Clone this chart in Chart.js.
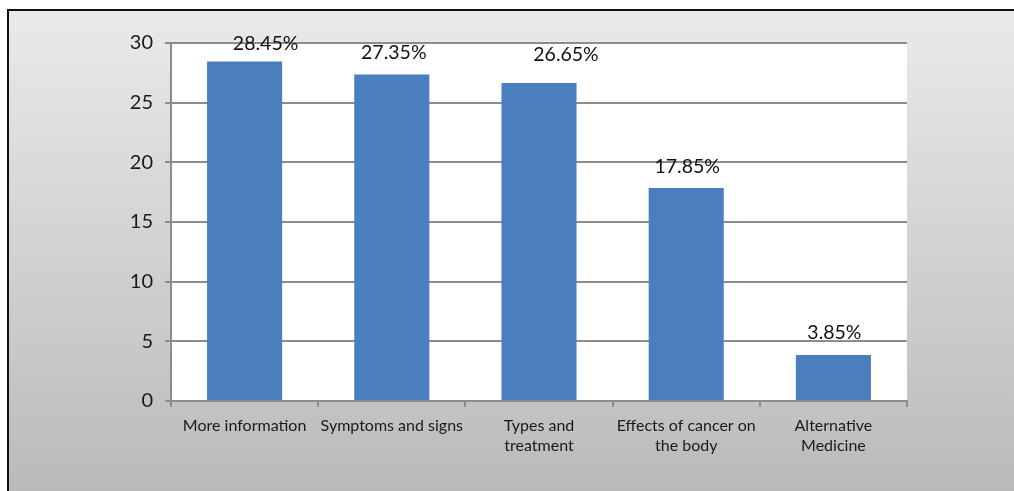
<!DOCTYPE html>
<html>
<head>
<meta charset="utf-8">
<script src="https://cdn.jsdelivr.net/npm/chart.js@4/dist/chart.umd.min.js"></script>
<style>
  html, body { margin: 0; padding: 0; background: #ffffff; }
  #wrap { position: relative; width: 1014px; height: 491px; }
</style>
</head>
<body>
<div id="wrap"><canvas id="c" width="1014" height="491"></canvas></div>
<script>
// Topics people looked for (share of responses, %)
const categories = [
  ["More information"],
  ["Symptoms and signs"],
  ["Types and", "treatment"],
  ["Effects of cancer on", "the body"],
  ["Alternative", "Medicine"]
];
const shares = [28.45, 27.35, 26.65, 17.85, 3.85];
const valueLabels = ["28.45%", "27.35%", "26.65%", "17.85%", "3.85%"];
const yTicks = [0, 5, 10, 15, 20, 25, 30];

// nudges for the value labels (pixels from the bar's top centre)
const labelNudge = [[21, -18], [2, -22], [27, -28], [1, -21], [1, -22]];

const FONT = "Lato, 'Open Sans', sans-serif";

const framePlugin = {
  id: 'frame',
  beforeDraw(chart) {
    const ctx = chart.ctx;
    const a = chart.chartArea;
    ctx.save();
    ctx.fillStyle = '#ffffff';
    ctx.fillRect(0, 0, chart.width, chart.height);
    const g = ctx.createLinearGradient(0, 10, 0, chart.height);
    g.addColorStop(0, '#eaeaea');
    g.addColorStop(1, '#bababa');
    ctx.fillStyle = g;
    ctx.fillRect(8, 10, chart.width - 8, chart.height - 10);
    ctx.strokeStyle = '#111111';
    ctx.lineWidth = 2;
    ctx.beginPath();
    ctx.moveTo(8, chart.height);
    ctx.lineTo(8, 10);
    ctx.lineTo(chart.width, 10);
    ctx.stroke();
    ctx.fillStyle = '#ffffff';
    ctx.fillRect(a.left, a.top, a.right - a.left, a.bottom - a.top);
    ctx.restore();
  }
};

const valueLabelPlugin = {
  id: 'valueLabels',
  afterDatasetsDraw(chart) {
    const ctx = chart.ctx;
    const meta = chart.getDatasetMeta(0);
    ctx.save();
    ctx.font = "19.5px " + FONT;
    ctx.fillStyle = '#111111';
    ctx.textAlign = 'center';
    ctx.textBaseline = 'middle';
    meta.data.forEach((bar, i) => {
      const n = labelNudge[i];
      ctx.fillText(valueLabels[i], bar.x + n[0], bar.y + n[1]);
    });
    ctx.restore();
  }
};

new Chart(document.getElementById('c'), {
  type: 'bar',
  data: {
    labels: categories,
    datasets: [{
      data: shares,
      backgroundColor: '#4a7ebf',
      borderWidth: 0,
      categoryPercentage: 1.0,
      barPercentage: 0.51
    }]
  },
  options: {
    responsive: false,
    animation: false,
    devicePixelRatio: 1,
    layout: { padding: { left: 0, top: 43, right: 107, bottom: 0 } },
    plugins: { legend: { display: false }, tooltip: { enabled: false } },
    scales: {
      x: {
        offset: true,
        grid: {
          offset: true,
          drawOnChartArea: false,
          drawTicks: true,
          tickLength: 6,
          color: '#8c8c8c',
          lineWidth: 2
        },
        border: { display: true, color: '#8c8c8c', width: 2 },
        ticks: {
          color: '#1a1a1a',
          font: { family: FONT, size: 16, lineHeight: 1.3 },
          padding: 8,
          maxRotation: 0,
          autoSkip: false
        },
        afterFit(scale) { scale.height = 90; }
      },
      y: {
        min: 0,
        max: 30,
        afterBuildTicks(scale) { scale.ticks = yTicks.map(v => ({ value: v })); },
        grid: {
          color: '#8c8c8c',
          lineWidth: 2,
          tickLength: 6,
          drawTicks: true
        },
        border: { display: true, color: '#8c8c8c', width: 2 },
        ticks: {
          color: '#1a1a1a',
          font: { family: FONT, size: 20 },
          padding: 12
        },
        afterFit(scale) { scale.width = 171; }
      }
    }
  },
  plugins: [framePlugin, valueLabelPlugin]
});
</script>
</body>
</html>
